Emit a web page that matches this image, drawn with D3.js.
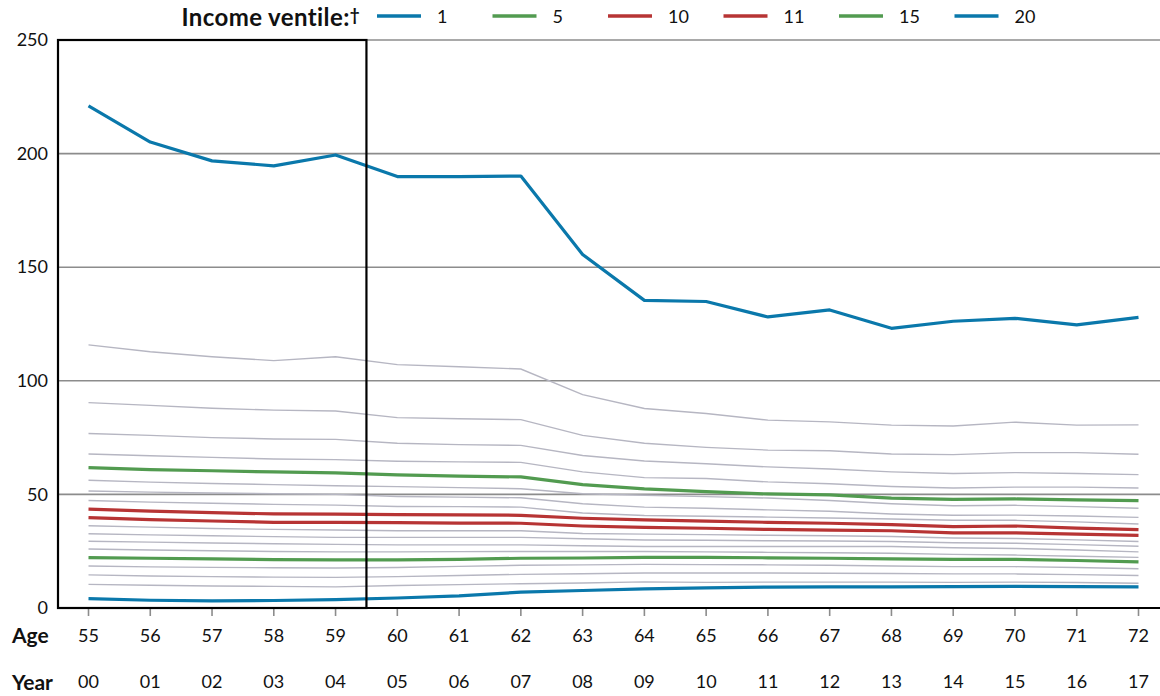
<!DOCTYPE html>
<html>
<head>
<meta charset="utf-8">
<script src="https://cdn.jsdelivr.net/npm/d3@7"></script>
<style>
  body { margin: 0; background: #fff; }
  svg text { font-family: Lato, "Open Sans", sans-serif; fill: #111; }
</style>
</head>
<body>
<div id="chart"></div>
<script>
// ages along the x axis and the matching calendar years (2000-2017)
const ages = [55, 56, 57, 58, 59, 60, 61, 62, 63, 64, 65, 66, 67, 68, 69, 70, 71, 72]
const years = ["00", "01", "02", "03", "04", "05", "06", "07", "08", "09", "10", "11", "12", "13", "14", "15", "16", "17"]
const yTicks = [0, 50, 100, 150, 200, 250]

// one array per income ventile
const v01 = [4.1, 3.4, 3.1, 3.3, 3.7, 4.4, 5.3, 7.0, 7.7, 8.4, 8.9, 9.2, 9.3, 9.3, 9.4, 9.5, 9.4, 9.3]
const v02 = [10.4, 10.0, 9.7, 9.5, 9.3, 9.9, 10.3, 10.7, 11.0, 11.5, 11.3, 11.4, 11.4, 11.4, 11.3, 11.4, 11.2, 10.9]
const v03 = [14.6, 14.1, 13.8, 13.6, 13.5, 13.8, 14.3, 14.8, 15.1, 15.4, 15.4, 15.4, 15.3, 15.2, 15.0, 15.0, 14.7, 14.3]
const v04 = [18.5, 18.1, 17.9, 17.7, 17.6, 17.8, 18.3, 18.8, 19.0, 19.2, 19.1, 19.0, 18.8, 18.5, 18.2, 18.2, 17.8, 17.3]
const v05 = [22.2, 21.9, 21.6, 21.3, 21.2, 21.2, 21.4, 21.9, 22.0, 22.3, 22.3, 22.1, 21.9, 21.6, 21.4, 21.4, 20.9, 20.3]
const v06 = [26.0, 25.5, 25.2, 24.9, 24.7, 24.7, 24.8, 24.9, 24.9, 24.9, 24.7, 24.5, 24.3, 24.1, 23.6, 23.3, 22.8, 22.3]
const v07 = [29.4, 29.0, 28.6, 28.3, 28.0, 27.8, 27.8, 27.8, 27.4, 27.1, 27.1, 27.1, 27.1, 27.1, 26.5, 26.2, 25.5, 24.7]
const v08 = [32.7, 32.2, 31.8, 31.4, 31.1, 31.1, 31.1, 31.1, 30.5, 29.9, 29.8, 29.6, 29.5, 29.3, 28.7, 28.5, 27.9, 27.2]
const v09 = [36.2, 35.6, 35.0, 34.6, 34.3, 34.0, 34.0, 34.0, 32.8, 32.5, 32.3, 32.0, 31.8, 31.5, 30.8, 30.6, 30.0, 29.3]
const v10 = [39.8, 38.9, 38.3, 37.7, 37.7, 37.6, 37.4, 37.3, 36.1, 35.5, 35.1, 34.6, 34.3, 34.0, 33.1, 33.1, 32.5, 32.0]
const v11 = [43.5, 42.6, 42.0, 41.4, 41.3, 41.1, 41.0, 40.8, 39.5, 38.8, 38.2, 37.7, 37.3, 36.7, 35.8, 36.1, 35.2, 34.5]
const v12 = [47.3, 46.6, 46.1, 45.6, 45.3, 44.7, 44.6, 44.4, 41.8, 40.7, 40.4, 40.0, 39.6, 39.2, 38.6, 38.6, 37.9, 37.0]
const v13 = [51.5, 51.0, 50.6, 50.3, 50.0, 49.1, 48.8, 48.5, 45.9, 44.4, 43.9, 43.2, 42.6, 41.4, 40.8, 40.9, 40.5, 39.9]
const v14 = [56.2, 55.4, 54.8, 54.3, 53.8, 53.4, 53.0, 52.5, 50.3, 49.6, 49.0, 48.4, 47.3, 45.9, 45.0, 45.2, 44.6, 43.9]
const v15 = [61.8, 60.9, 60.4, 59.9, 59.5, 58.6, 58.0, 57.7, 54.3, 52.4, 51.2, 50.2, 49.8, 48.4, 47.8, 48.0, 47.6, 47.3]
const v16 = [67.8, 67.0, 66.3, 65.6, 65.3, 64.6, 64.3, 64.1, 59.9, 57.4, 57.0, 55.5, 54.7, 53.5, 52.8, 53.2, 53.2, 52.8]
const v17 = [76.8, 76.0, 75.0, 74.4, 74.2, 72.5, 71.9, 71.6, 67.1, 64.7, 63.5, 62.1, 61.2, 59.9, 59.2, 59.6, 59.2, 58.7]
const v18 = [90.4, 89.2, 87.9, 87.1, 86.7, 83.8, 83.3, 82.9, 76.0, 72.5, 70.7, 69.5, 69.2, 67.8, 67.5, 68.4, 68.4, 67.7]
const v19 = [115.8, 112.8, 110.6, 108.9, 110.6, 107.1, 106.2, 105.2, 93.9, 87.8, 85.6, 82.7, 81.9, 80.5, 80.1, 81.8, 80.5, 80.6]
const v20 = [221.0, 205.1, 196.8, 194.6, 199.4, 189.9, 189.9, 190.1, 155.6, 135.4, 134.9, 128.1, 131.2, 123.1, 126.2, 127.5, 124.6, 127.9]

const grayVentiles = [v02, v03, v04, v06, v07, v08, v09, v12, v13, v14, v16, v17, v18, v19]
const highlightNames = ["1", "5", "10", "11", "15", "20"]
const highlightSeries = [v01, v05, v10, v11, v15, v20]
const highlightColors = ["#0a78ab", "#529b50", "#b73434", "#b73434", "#529b50", "#0a78ab"]

const width = 1160
const height = 696
const plotLeft = 58
const plotRight = 1160
const plotTop = 40
const plotBottom = 608

const svg = d3.select("#chart").append("svg")
    .attr("width", width)
    .attr("height", height)

const x = d3.scaleLinear().domain([55, 72]).range([88.5, 1138.5])
const y = d3.scaleLinear().domain([0, 250]).range([plotBottom, plotTop])

// horizontal gridlines
svg.append("g")
    .selectAll("line")
    .data(yTicks.filter(d => d > 0))
    .enter()
    .append("line")
    .attr("x1", plotLeft)
    .attr("x2", plotRight)
    .attr("y1", d => y(d))
    .attr("y2", d => y(d))
    .attr("stroke", "#8c8c8c")
    .attr("stroke-width", 1.6)

// y axis labels
const yAxis = d3.axisLeft(y).tickValues(yTicks).tickSize(0).tickPadding(10)
const yg = svg.append("g").attr("transform", `translate(${plotLeft},0)`).call(yAxis)
yg.select(".domain").remove()
yg.selectAll("text").style("font-size", "18px").style("font-family", "Lato, sans-serif").attr("fill", "#111")

const line = d3.line()
    .x((d, i) => x(ages[i]))
    .y(d => y(d))

// the other ventiles in thin grey
svg.append("g")
    .selectAll("path")
    .data(grayVentiles)
    .enter()
    .append("path")
    .attr("d", line)
    .attr("fill", "none")
    .attr("stroke", "#b6b6c2")
    .attr("stroke-width", 1.4)

// highlighted ventiles
svg.append("g")
    .selectAll("path")
    .data(highlightSeries)
    .enter()
    .append("path")
    .attr("d", line)
    .attr("fill", "none")
    .attr("stroke", (d, i) => highlightColors[i])
    .attr("stroke-width", 3.2)
    .attr("stroke-linejoin", "round")

// x axis: tick marks below the baseline
svg.append("g")
    .selectAll("line")
    .data(ages)
    .enter()
    .append("line")
    .attr("x1", d => x(d))
    .attr("x2", d => x(d))
    .attr("y1", plotBottom + 1)
    .attr("y2", plotBottom + 8)
    .attr("stroke", "#8c8c8c")
    .attr("stroke-width", 1.6)

svg.append("line")
    .attr("x1", plotLeft)
    .attr("x2", plotRight)
    .attr("y1", plotBottom)
    .attr("y2", plotBottom)
    .attr("stroke", "#000")
    .attr("stroke-width", 2.2)

// box around the ages 55-59 block
svg.append("rect")
    .attr("x", plotLeft)
    .attr("y", plotTop)
    .attr("width", (x(59) + x(60)) / 2 - plotLeft)
    .attr("height", plotBottom - plotTop)
    .attr("fill", "none")
    .attr("stroke", "#000")
    .attr("stroke-width", 2.2)

// age and year rows
svg.append("g")
    .selectAll("text")
    .data(ages)
    .enter()
    .append("text")
    .attr("x", d => x(d))
    .attr("y", 642)
    .attr("text-anchor", "middle")
    .style("font-size", "18px")
    .text(d => d)

svg.append("g")
    .selectAll("text")
    .data(years)
    .enter()
    .append("text")
    .attr("x", (d, i) => x(ages[i]))
    .attr("y", 688)
    .attr("text-anchor", "middle")
    .style("font-size", "18px")
    .text(d => d)

svg.append("text").attr("x", 12).attr("y", 643)
    .style("font-size", "21px").style("font-weight", "bold").text("Age")
svg.append("text").attr("x", 12).attr("y", 690)
    .style("font-size", "21px").style("font-weight", "bold").text("Year")

// legend
const legendTitle = svg.append("text")
    .attr("x", 360)
    .attr("y", 26)
    .attr("text-anchor", "end")
    .style("font-size", "24px")
    .style("font-weight", "bold")
    .style("letter-spacing", "0.4px")
legendTitle.append("tspan").text("Income ventile:")
legendTitle.append("tspan").attr("dy", -5).style("font-size", "17px").text("†")

const legend = svg.append("g")
    .selectAll("g")
    .data(highlightNames)
    .enter()
    .append("g")
    .attr("transform", (d, i) => `translate(${377 + i * 115.5},16)`)

legend.append("line")
    .attr("x1", 0)
    .attr("x2", 44)
    .attr("stroke", (d, i) => highlightColors[i])
    .attr("stroke-width", 3.5)

legend.append("text")
    .attr("x", 60)
    .attr("y", 7)
    .style("font-size", "18px")
    .text(d => d)
</script>
</body>
</html>
